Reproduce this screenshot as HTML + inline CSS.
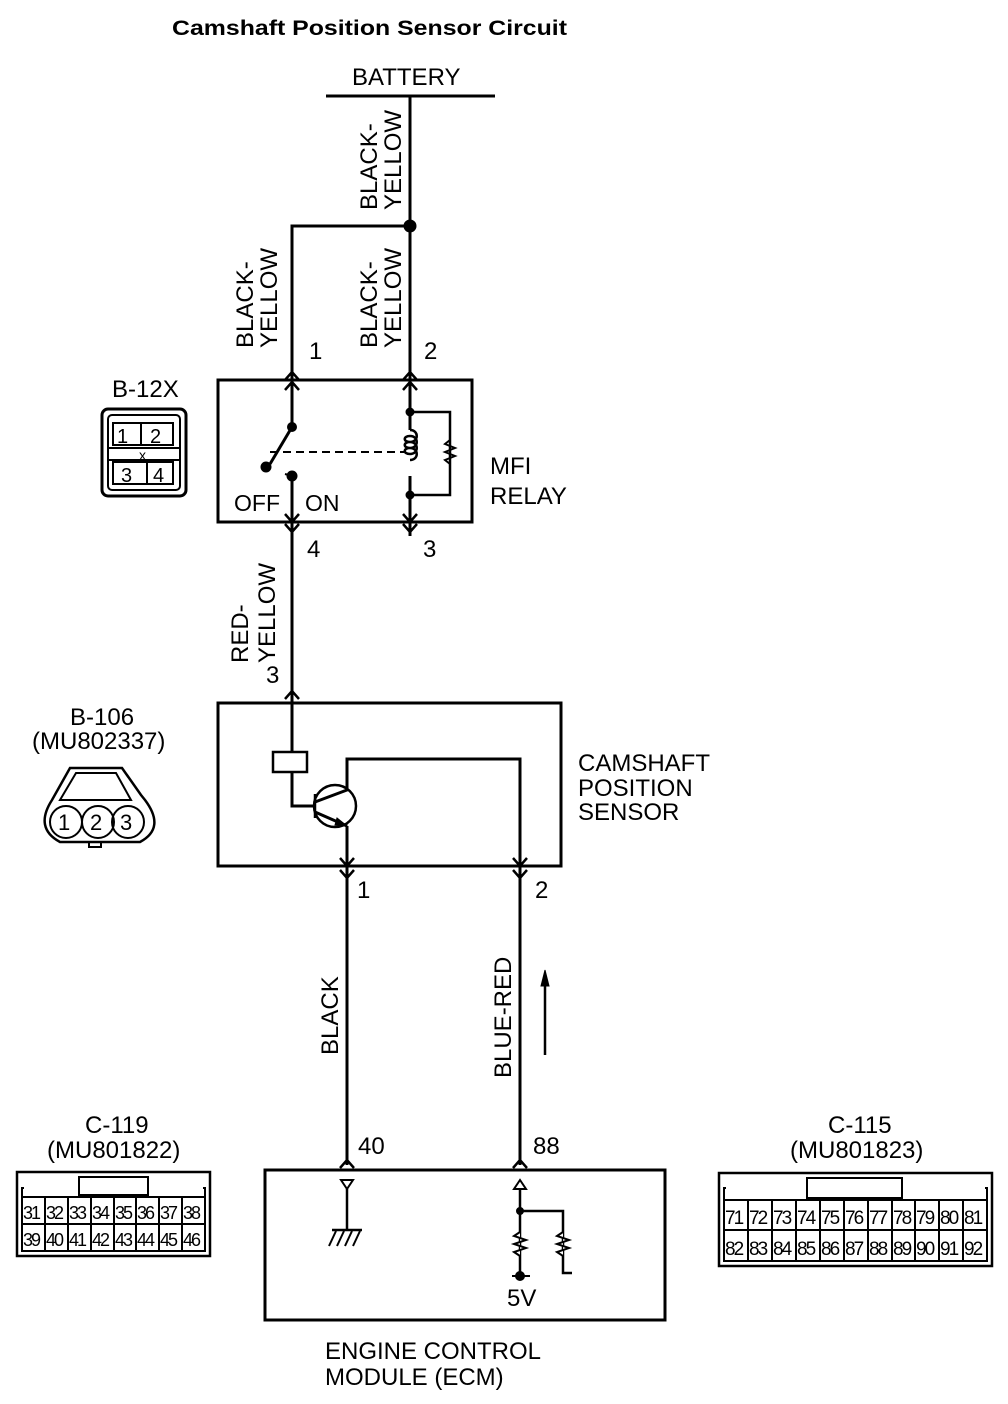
<!DOCTYPE html>
<html><head><meta charset="utf-8"><style>
html,body{margin:0;padding:0;background:#fff;}
svg{display:block;font-family:"Liberation Sans",Arial,sans-serif;}
text{fill:#000;}
</style></head><body>
<svg width="1008" height="1404" viewBox="0 0 1008 1404" xmlns="http://www.w3.org/2000/svg">
<g fill="none" stroke="#000" stroke-width="3">
<text x="172" y="35" font-size="21" font-weight="bold" stroke="none" textLength="395" lengthAdjust="spacingAndGlyphs">Camshaft Position Sensor  Circuit</text>
<line x1="326" y1="96" x2="495" y2="96"/>
<line x1="410" y1="96" x2="410" y2="380"/>
<polyline points="410,226 292,226 292,380"/>
<circle cx="410" cy="226" r="5" fill="#000"/>
<rect x="218" y="380" width="254" height="142"/>
<polyline points="285,380 292,372 299,380" stroke-width="2.5"/>
<polyline points="285,390 292,382 299,390" stroke-width="2.5"/>
<polyline points="403,380 410,372 417,380" stroke-width="2.5"/>
<polyline points="403,390 410,382 417,390" stroke-width="2.5"/>
<line x1="292" y1="380" x2="292" y2="427"/>
<line x1="292" y1="427" x2="270" y2="464"/>
<circle cx="292" cy="427" r="3.5" fill="#000"/>
<circle cx="266" cy="467" r="4" fill="#000"/>
<circle cx="292" cy="476" r="4" fill="#000"/>
<line x1="285" y1="474" x2="292" y2="476" stroke-width="2"/>
<line x1="292" y1="476" x2="292" y2="545"/>
<line x1="270" y1="452" x2="404" y2="452" stroke-width="2" stroke-dasharray="8,5"/>
<line x1="410" y1="380" x2="410" y2="430"/>
<path d="M410,430 c9,0 9,12 0,12 c-7,0 -7,-6 0,-6 c9,0 9,12 0,12 c-7,0 -7,-6 0,-6 c9,0 9,12 0,12 c-7,0 -7,-6 0,-6 c9,0 9,12 0,12" stroke-width="2.5"/>
<line x1="410" y1="476" x2="410" y2="536"/>
<polyline points="410,412 450,412 450,495 410,495" stroke-width="2.5"/>
<circle cx="410" cy="412" r="3" fill="#000"/>
<circle cx="410" cy="495" r="3" fill="#000"/>
<polyline points="450,440 445,444 455,448 445,452 455,456 445,460 450,464" stroke-width="2"/>
<polyline points="285,514 292,522 299,514" stroke-width="2.5"/>
<polyline points="285,524 292,532 299,524" stroke-width="2.5"/>
<polyline points="403,514 410,522 417,514" stroke-width="2.5"/>
<polyline points="403,524 410,532 417,524" stroke-width="2.5"/>
<line x1="292" y1="545" x2="292" y2="703"/>
<text x="234" y="511" font-size="23" stroke="none">OFF</text>
<text x="305" y="511" font-size="23" stroke="none">ON</text>
<rect x="218" y="703" width="343" height="163"/>
<polyline points="285,699 292,691 299,699" stroke-width="2.5"/>
<line x1="292" y1="703" x2="292" y2="752"/>
<rect x="273" y="752" width="34" height="20" stroke-width="2.5"/>
<polyline points="292,772 292,806 315,806"/>
<circle cx="335" cy="806" r="21" stroke-width="2.5"/>
<line x1="315" y1="794" x2="315" y2="818" stroke-width="2.5"/>
<polyline points="315,802 347,790 347,759 520,759 520,885"/>
<line x1="315" y1="812" x2="347" y2="826"/>
<polygon points="347,826 337,818 335,825" fill="#000" stroke-width="1"/>
<line x1="347" y1="826" x2="347" y2="1165"/>
<line x1="520" y1="885" x2="520" y2="1165"/>
<polyline points="340,858 347,866 354,858" stroke-width="2.5"/>
<polyline points="340,870 347,878 354,870" stroke-width="2.5"/>
<polyline points="513,858 520,866 527,858" stroke-width="2.5"/>
<polyline points="513,870 520,878 527,870" stroke-width="2.5"/>
<line x1="545" y1="982" x2="545" y2="1055" stroke-width="2.5"/>
<polygon points="545,970 541,986 549,986" fill="#000" stroke-width="1"/>
<rect x="265" y="1170" width="400" height="150"/>
<polyline points="340,1168 347,1160 354,1168" stroke-width="2.5"/>
<polyline points="513,1168 520,1160 527,1168" stroke-width="2.5"/>
<polygon points="341,1180 353,1180 347,1189" stroke-width="2"/>
<line x1="347" y1="1189" x2="347" y2="1230" stroke-width="2.5"/>
<line x1="332" y1="1230" x2="362" y2="1230" stroke-width="2.5"/>
<line x1="336" y1="1231" x2="329" y2="1246" stroke-width="2"/>
<line x1="344" y1="1231" x2="337" y2="1246" stroke-width="2"/>
<line x1="352" y1="1231" x2="345" y2="1246" stroke-width="2"/>
<line x1="360" y1="1231" x2="353" y2="1246" stroke-width="2"/>
<polygon points="520,1180 514,1189 526,1189" stroke-width="2"/>
<line x1="520" y1="1189" x2="520" y2="1276" stroke-width="2.5"/>
<polyline points="520,1211 563,1211 563,1273 572,1273" stroke-width="2.5"/>
<circle cx="520" cy="1211" r="2.5" fill="#000"/>
<polyline points="520,1232 514,1236 526,1240 514,1244 526,1248 514,1252 520,1256" stroke-width="2" fill="#fff"/>
<polyline points="563,1232 557,1236 569,1240 557,1244 569,1248 557,1252 563,1256" stroke-width="2" fill="#fff"/>
<line x1="512" y1="1276" x2="530" y2="1276" stroke-width="2"/>
<circle cx="520" cy="1276" r="3.5" fill="#000"/>
<rect x="102" y="409" width="84" height="87" rx="6"/>
<rect x="108" y="415" width="72" height="75" rx="4" stroke-width="2"/>
<rect x="113" y="423" width="60" height="22" stroke-width="2"/>
<line x1="141" y1="423" x2="141" y2="445" stroke-width="2"/>
<rect x="108" y="448" width="72" height="12" stroke-width="2"/>
<rect x="113" y="462" width="60" height="22" stroke-width="2"/>
<line x1="147" y1="462" x2="147" y2="484" stroke-width="2"/>
<path d="M70,768 L122,768 L141,795 L145,800 Q166,828 140,842 L60,842 Q34,828 52,800 Z" stroke-width="2.5"/>
<path d="M76,773 L116,773 L131,800 L60,800 Z" stroke-width="2"/>
<circle cx="66" cy="822" r="16" stroke-width="2"/>
<circle cx="98" cy="822" r="16" stroke-width="2"/>
<circle cx="128" cy="822" r="16" stroke-width="2"/>
<rect x="89" y="842" width="12" height="5" stroke-width="2"/>
<rect x="17" y="1172" width="193" height="84" stroke-width="2.5"/>
<rect x="79" y="1177" width="69" height="18" stroke-width="2"/>
<polyline points="22,1197 22,1188 24,1188" stroke-width="2"/>
<polyline points="205,1197 205,1188 203,1188" stroke-width="2"/>
<rect x="22" y="1197" width="183" height="54" stroke-width="2"/>
<line x1="22" y1="1224" x2="205" y2="1224" stroke-width="2"/>
<g stroke-width="2"><line x1="45" y1="1197" x2="45" y2="1251"/><line x1="68" y1="1197" x2="68" y2="1251"/><line x1="91" y1="1197" x2="91" y2="1251"/><line x1="114" y1="1197" x2="114" y2="1251"/><line x1="136" y1="1197" x2="136" y2="1251"/><line x1="159" y1="1197" x2="159" y2="1251"/><line x1="182" y1="1197" x2="182" y2="1251"/></g>
<rect x="719" y="1173" width="273" height="93" stroke-width="2.5"/>
<rect x="807" y="1178" width="95" height="20" stroke-width="2"/>
<polyline points="724,1200 724,1188 726,1188" stroke-width="2"/>
<polyline points="987,1200 987,1188 985,1188" stroke-width="2"/>
<rect x="724" y="1200" width="263" height="61" stroke-width="2"/>
<line x1="724" y1="1230" x2="987" y2="1230" stroke-width="2"/>
<g stroke-width="2"><line x1="748" y1="1200" x2="748" y2="1261"/><line x1="772" y1="1200" x2="772" y2="1261"/><line x1="796" y1="1200" x2="796" y2="1261"/><line x1="820" y1="1200" x2="820" y2="1261"/><line x1="844" y1="1200" x2="844" y2="1261"/><line x1="868" y1="1200" x2="868" y2="1261"/><line x1="892" y1="1200" x2="892" y2="1261"/><line x1="915" y1="1200" x2="915" y2="1261"/><line x1="939" y1="1200" x2="939" y2="1261"/><line x1="963" y1="1200" x2="963" y2="1261"/></g>
</g>
<g font-size="24">
<text x="352" y="85">BATTERY</text>
<text transform="translate(377,210) rotate(-90)">BLACK-</text>
<text transform="translate(401,210) rotate(-90)">YELLOW</text>
<text transform="translate(253,348) rotate(-90)">BLACK-</text>
<text transform="translate(277,348) rotate(-90)">YELLOW</text>
<text transform="translate(377,348) rotate(-90)">BLACK-</text>
<text transform="translate(401,348) rotate(-90)">YELLOW</text>
<text x="309" y="359">1</text>
<text x="424" y="359">2</text>
<text x="112" y="397">B-12X</text>
<text x="490" y="474">MFI</text>
<text x="490" y="504">RELAY</text>
<text x="307" y="557">4</text>
<text x="423" y="557">3</text>
<text transform="translate(248,663) rotate(-90)">RED-</text>
<text transform="translate(275,663) rotate(-90)">YELLOW</text>
<text x="266" y="683">3</text>
<text x="70" y="725">B-106</text>
<text x="32" y="749">(MU802337)</text>
<text x="578" y="771">CAMSHAFT</text>
<text x="578" y="796">POSITION</text>
<text x="578" y="820">SENSOR</text>
<text x="357" y="898">1</text>
<text x="535" y="898">2</text>
<text transform="translate(338,1055) rotate(-90)">BLACK</text>
<text transform="translate(511,1078) rotate(-90)">BLUE-RED</text>
<text x="85" y="1133">C-119</text>
<text x="47" y="1158">(MU801822)</text>
<text x="828" y="1133">C-115</text>
<text x="790" y="1158">(MU801823)</text>
<text x="358" y="1154">40</text>
<text x="533" y="1154">88</text>
<text x="507" y="1306">5V</text>
<text x="325" y="1359">ENGINE CONTROL</text>
<text x="325" y="1385">MODULE (ECM)</text>
</g>
<g font-size="20">
<text x="117" y="443">1</text><text x="150" y="443">2</text>
<text x="121" y="482">3</text><text x="153" y="482">4</text>
<text x="139" y="460" font-size="14">x</text>
<text x="58" y="830" font-size="22">1</text><text x="90" y="830" font-size="22">2</text><text x="120" y="830" font-size="22">3</text>
</g>
<g font-size="18" letter-spacing="-2">
<text x="23" y="1219">31</text><text x="46" y="1219">32</text><text x="69" y="1219">33</text><text x="92" y="1219">34</text><text x="115" y="1219">35</text><text x="137" y="1219">36</text><text x="160" y="1219">37</text><text x="183" y="1219">38</text>
<text x="23" y="1246">39</text><text x="46" y="1246">40</text><text x="69" y="1246">41</text><text x="92" y="1246">42</text><text x="115" y="1246">43</text><text x="137" y="1246">44</text><text x="160" y="1246">45</text><text x="183" y="1246">46</text>
</g>
<g font-size="19" letter-spacing="-2">
<text x="725" y="1224">71</text><text x="749" y="1224">72</text><text x="773" y="1224">73</text><text x="797" y="1224">74</text><text x="821" y="1224">75</text><text x="845" y="1224">76</text><text x="869" y="1224">77</text><text x="893" y="1224">78</text><text x="916" y="1224">79</text><text x="940" y="1224">80</text><text x="964" y="1224">81</text>
<text x="725" y="1255">82</text><text x="749" y="1255">83</text><text x="773" y="1255">84</text><text x="797" y="1255">85</text><text x="821" y="1255">86</text><text x="845" y="1255">87</text><text x="869" y="1255">88</text><text x="893" y="1255">89</text><text x="916" y="1255">90</text><text x="940" y="1255">91</text><text x="964" y="1255">92</text>
</g>
</svg>
</body></html>
